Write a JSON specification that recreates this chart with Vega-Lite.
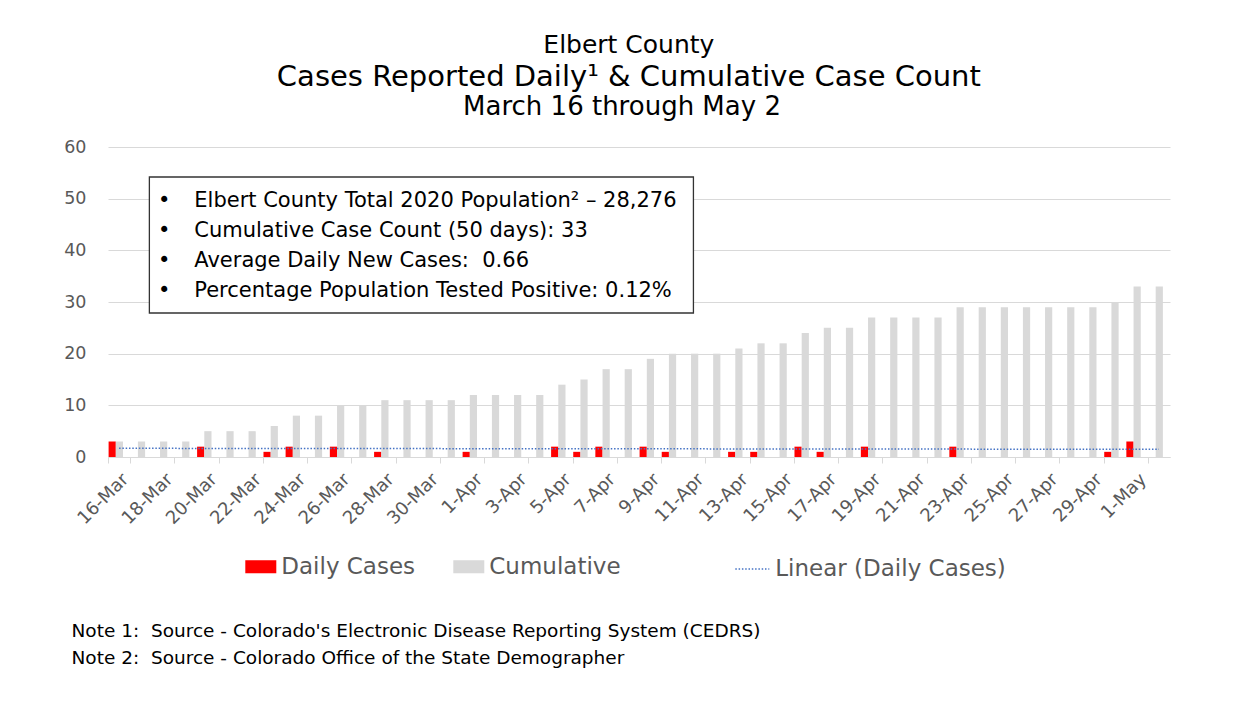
{
  "$schema": "https://vega.github.io/schema/vega-lite/v6.json",
  "padding": {"left": 63, "top": 33, "right": 85, "bottom": 40},
  "background": "white",
  "title": {
    "text": "Elbert County",
    "subtitle": "Cases Reported Daily¹ & Cumulative Case Count",
    "font": "DejaVu Sans", "fontSize": 25, "fontWeight": "normal", "color": "#000000",
    "subtitleFont": "DejaVu Sans", "subtitleFontSize": 29, "subtitleColor": "#000000", "subtitlePadding": 5,
    "anchor": "middle", "dx": 12, "offset": 2
  },
  "datasets": {
    "cases": [
      {"date": "16-Mar", "Daily Cases": 3, "Cumulative": 3},
      {"date": "17-Mar", "Daily Cases": 0, "Cumulative": 3},
      {"date": "18-Mar", "Daily Cases": 0, "Cumulative": 3},
      {"date": "19-Mar", "Daily Cases": 0, "Cumulative": 3},
      {"date": "20-Mar", "Daily Cases": 2, "Cumulative": 5},
      {"date": "21-Mar", "Daily Cases": 0, "Cumulative": 5},
      {"date": "22-Mar", "Daily Cases": 0, "Cumulative": 5},
      {"date": "23-Mar", "Daily Cases": 1, "Cumulative": 6},
      {"date": "24-Mar", "Daily Cases": 2, "Cumulative": 8},
      {"date": "25-Mar", "Daily Cases": 0, "Cumulative": 8},
      {"date": "26-Mar", "Daily Cases": 2, "Cumulative": 10},
      {"date": "27-Mar", "Daily Cases": 0, "Cumulative": 10},
      {"date": "28-Mar", "Daily Cases": 1, "Cumulative": 11},
      {"date": "29-Mar", "Daily Cases": 0, "Cumulative": 11},
      {"date": "30-Mar", "Daily Cases": 0, "Cumulative": 11},
      {"date": "31-Mar", "Daily Cases": 0, "Cumulative": 11},
      {"date": "1-Apr", "Daily Cases": 1, "Cumulative": 12},
      {"date": "2-Apr", "Daily Cases": 0, "Cumulative": 12},
      {"date": "3-Apr", "Daily Cases": 0, "Cumulative": 12},
      {"date": "4-Apr", "Daily Cases": 0, "Cumulative": 12},
      {"date": "5-Apr", "Daily Cases": 2, "Cumulative": 14},
      {"date": "6-Apr", "Daily Cases": 1, "Cumulative": 15},
      {"date": "7-Apr", "Daily Cases": 2, "Cumulative": 17},
      {"date": "8-Apr", "Daily Cases": 0, "Cumulative": 17},
      {"date": "9-Apr", "Daily Cases": 2, "Cumulative": 19},
      {"date": "10-Apr", "Daily Cases": 1, "Cumulative": 20},
      {"date": "11-Apr", "Daily Cases": 0, "Cumulative": 20},
      {"date": "12-Apr", "Daily Cases": 0, "Cumulative": 20},
      {"date": "13-Apr", "Daily Cases": 1, "Cumulative": 21},
      {"date": "14-Apr", "Daily Cases": 1, "Cumulative": 22},
      {"date": "15-Apr", "Daily Cases": 0, "Cumulative": 22},
      {"date": "16-Apr", "Daily Cases": 2, "Cumulative": 24},
      {"date": "17-Apr", "Daily Cases": 1, "Cumulative": 25},
      {"date": "18-Apr", "Daily Cases": 0, "Cumulative": 25},
      {"date": "19-Apr", "Daily Cases": 2, "Cumulative": 27},
      {"date": "20-Apr", "Daily Cases": 0, "Cumulative": 27},
      {"date": "21-Apr", "Daily Cases": 0, "Cumulative": 27},
      {"date": "22-Apr", "Daily Cases": 0, "Cumulative": 27},
      {"date": "23-Apr", "Daily Cases": 2, "Cumulative": 29},
      {"date": "24-Apr", "Daily Cases": 0, "Cumulative": 29},
      {"date": "25-Apr", "Daily Cases": 0, "Cumulative": 29},
      {"date": "26-Apr", "Daily Cases": 0, "Cumulative": 29},
      {"date": "27-Apr", "Daily Cases": 0, "Cumulative": 29},
      {"date": "28-Apr", "Daily Cases": 0, "Cumulative": 29},
      {"date": "29-Apr", "Daily Cases": 0, "Cumulative": 29},
      {"date": "30-Apr", "Daily Cases": 1, "Cumulative": 30},
      {"date": "1-May", "Daily Cases": 3, "Cumulative": 33},
      {"date": "2-May", "Daily Cases": 0, "Cumulative": 33}
    ],
    "trend": [
      {"date": "16-Mar", "trend": 1.68},
      {"date": "2-May", "trend": 1.49}
    ]
  },
  "vconcat": [
    {
      "width": 1062,
      "height": 310,
      "title": {"text": "March 16 through May 2", "font": "DejaVu Sans", "fontSize": 26, "fontWeight": "normal", "color": "#000000", "anchor": "middle", "dx": -17, "offset": 18},
      "layer": [
        {
          "layer": [
            {
              "data": {"name": "cases"},
              "transform": [{"fold": ["Daily Cases", "Cumulative"], "as": ["series", "value"]}],
              "mark": {"type": "bar"},
              "encoding": {
                "x": {
                  "field": "date", "type": "nominal",
                  "scale": {
                    "domain": ["16-Mar","17-Mar","18-Mar","19-Mar","20-Mar","21-Mar","22-Mar","23-Mar","24-Mar","25-Mar","26-Mar","27-Mar","28-Mar","29-Mar","30-Mar","31-Mar","1-Apr","2-Apr","3-Apr","4-Apr","5-Apr","6-Apr","7-Apr","8-Apr","9-Apr","10-Apr","11-Apr","12-Apr","13-Apr","14-Apr","15-Apr","16-Apr","17-Apr","18-Apr","19-Apr","20-Apr","21-Apr","22-Apr","23-Apr","24-Apr","25-Apr","26-Apr","27-Apr","28-Apr","29-Apr","30-Apr","1-May","2-May"],
                    "paddingInner": 0, "paddingOuter": 0
                  },
                  "axis": {
                    "values": ["16-Mar","18-Mar","20-Mar","22-Mar","24-Mar","26-Mar","28-Mar","30-Mar","1-Apr","3-Apr","5-Apr","7-Apr","9-Apr","11-Apr","13-Apr","15-Apr","17-Apr","19-Apr","21-Apr","23-Apr","25-Apr","27-Apr","29-Apr","1-May"],
                    "title": ["Note 1:\u00a0 Source - Colorado's Electronic Disease Reporting System (CEDRS)", "Note 2:\u00a0 Source - Colorado Office of the State Demographer"],
                    "titleFont": "DejaVu Sans", "titleFontSize": 18.5, "titleColor": "#000000", "titleFontWeight": "normal",
                    "titleAnchor": "start", "titleAlign": "left", "titleBaseline": "alphabetic",
                    "titleX": -37, "titleY": 179, "titleLineHeight": 27.5,
                    "labelAngle": -45, "labelFont": "DejaVu Sans", "labelFontSize": 18, "labelColor": "#595959", "labelPadding": 7,
                    "domainColor": "#d9d9d9", "tickColor": "#d9d9d9", "tickSize": 6, "tickBand": "extent", "grid": false
                  }
                },
                "xOffset": {
                  "field": "series", "type": "nominal",
                  "scale": {"domain": ["Daily Cases", "Cumulative"], "range": [0.6, 15], "paddingInner": 0, "paddingOuter": 0}
                },
                "y": {
                  "field": "value", "type": "quantitative",
                  "scale": {"domain": [0, 60], "nice": false},
                  "axis": {
                    "values": [0, 10, 20, 30, 40, 50, 60], "title": null, "domain": false, "ticks": false,
                    "labelFont": "DejaVu Sans", "labelFontSize": 17.5, "labelColor": "#595959", "labelPadding": 22,
                    "gridColor": "#d9d9d9", "gridWidth": 1
                  }
                },
                "color": {
                  "field": "series", "type": "nominal",
                  "scale": {"domain": ["Daily Cases", "Cumulative"], "range": ["#ff0000", "#d9d9d9"]},
                  "legend": {
                    "orient": "none", "legendX": 137.3, "legendY": 404, "direction": "horizontal", "title": null,
                    "symbolType": "M-1,-0.42H1V0.42H-1Z", "symbolSize": 961, "symbolStrokeWidth": 0,
                    "labelFont": "DejaVu Sans", "labelFontSize": 23, "labelColor": "#595959", "labelLimit": 400,
                    "columnPadding": 38, "labelOffset": 5, "padding": 0
                  }
                }
              }
            },
            {
              "data": {"name": "trend"},
              "mark": {"type": "line", "stroke": "#4472c4", "strokeWidth": 1.5},
              "encoding": {
                "x": {"field": "date", "type": "nominal"},
                "y": {"field": "trend", "type": "quantitative"},
                "strokeDash": {
                  "datum": "Linear (Daily Cases)",
                  "scale": {"domain": ["Linear (Daily Cases)"], "range": [[1.5, 1.8]]},
                  "legend": {
                    "orient": "none", "legendX": 626.3, "legendY": 404, "direction": "horizontal", "title": null,
                    "symbolType": "stroke", "symbolSize": 1156, "symbolStrokeColor": "#4472c4", "symbolStrokeWidth": 1.3,
                    "labelFont": "DejaVu Sans", "labelFontSize": 23, "labelColor": "#595959", "labelLimit": 400, "labelOffset": 5, "padding": 0
                  }
                }
              }
            }
          ]
        },
        {
          "data": {"values": [{}]},
          "layer": [
            {
              "mark": {"type": "rect", "fill": "white", "stroke": "#333333", "strokeWidth": 1.3},
              "encoding": {
                "x": {"datum": 1.87, "type": "quantitative", "scale": {"domain": [0, 48], "nice": false, "zero": false}, "axis": null},
                "x2": {"datum": 26.46},
                "y": {"datum": 54.19, "type": "quantitative"},
                "y2": {"datum": 27.87}
              }
            },
            {
              "mark": {"type": "text", "align": "center", "baseline": "alphabetic", "font": "DejaVu Sans", "fontSize": 21, "color": "#000000", "text": "•"},
              "encoding": {"x": {"datum": 2.54, "type": "quantitative"}, "y": {"datum": 48.39, "type": "quantitative"}}
            },
            {
              "mark": {"type": "text", "align": "center", "baseline": "alphabetic", "font": "DejaVu Sans", "fontSize": 21, "color": "#000000", "text": "•"},
              "encoding": {"x": {"datum": 2.54, "type": "quantitative"}, "y": {"datum": 42.58, "type": "quantitative"}}
            },
            {
              "mark": {"type": "text", "align": "center", "baseline": "alphabetic", "font": "DejaVu Sans", "fontSize": 21, "color": "#000000", "text": "•"},
              "encoding": {"x": {"datum": 2.54, "type": "quantitative"}, "y": {"datum": 36.77, "type": "quantitative"}}
            },
            {
              "mark": {"type": "text", "align": "center", "baseline": "alphabetic", "font": "DejaVu Sans", "fontSize": 21, "color": "#000000", "text": "•"},
              "encoding": {"x": {"datum": 2.54, "type": "quantitative"}, "y": {"datum": 30.97, "type": "quantitative"}}
            },
            {
              "mark": {"type": "text", "align": "left", "baseline": "alphabetic", "font": "DejaVu Sans", "fontSize": 21, "color": "#000000", "text": "Elbert County Total 2020 Population² – 28,276"},
              "encoding": {"x": {"datum": 3.9, "type": "quantitative"}, "y": {"datum": 48.39, "type": "quantitative"}}
            },
            {
              "mark": {"type": "text", "align": "left", "baseline": "alphabetic", "font": "DejaVu Sans", "fontSize": 21, "color": "#000000", "text": "Cumulative Case Count (50 days): 33"},
              "encoding": {"x": {"datum": 3.9, "type": "quantitative"}, "y": {"datum": 42.58, "type": "quantitative"}}
            },
            {
              "mark": {"type": "text", "align": "left", "baseline": "alphabetic", "font": "DejaVu Sans", "fontSize": 21, "color": "#000000", "text": "Average Daily New Cases:\u00a0 0.66"},
              "encoding": {"x": {"datum": 3.9, "type": "quantitative"}, "y": {"datum": 36.77, "type": "quantitative"}}
            },
            {
              "mark": {"type": "text", "align": "left", "baseline": "alphabetic", "font": "DejaVu Sans", "fontSize": 21, "color": "#000000", "text": "Percentage Population Tested Positive: 0.12%"},
              "encoding": {"x": {"datum": 3.9, "type": "quantitative"}, "y": {"datum": 30.97, "type": "quantitative"}}
            }
          ]
        }
      ],
      "resolve": {"scale": {"x": "independent"}}
    }
  ],
  "config": {
    "font": "DejaVu Sans",
    "view": {"stroke": null}
  }
}
